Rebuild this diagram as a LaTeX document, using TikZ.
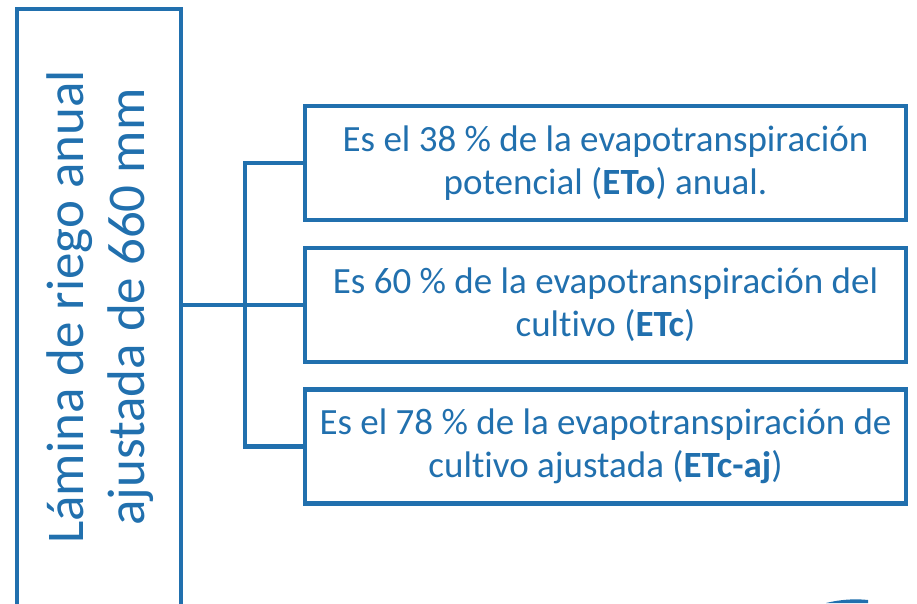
\documentclass[tikz,border=0pt]{standalone}
\usepackage{fontspec}
\setmainfont{Carlito}[Ligatures=NoCommon]
\definecolor{mblue}{HTML}{2170AE}
\begin{document}
\begin{tikzpicture}[x=1pt,y=-1pt,
  rbox/.style={draw=mblue, line width=4.5pt, minimum width=601pt, minimum height=114pt,
     inner sep=0pt, align=center, text=mblue, font=\fontsize{37}{43}\selectfont},
  conn/.style={draw=mblue, line width=4.5pt}]
\useasboundingbox (0,0) rectangle (917,603);
\begin{scope}
\clip (0,0) rectangle (917,603);
\draw[conn] (17,620) -- (17,9) -- (181,9) -- (181,620);
\end{scope}
\coordinate (L) at (181,305);
\node[rotate=90, text=mblue, align=center, font=\fontsize{53}{61}\selectfont] (lt) at (100,307)
  {Lámina de riego anual\\ajustada de 660 mm};
\node[rbox] (b1) at (605.5,163) {Es el 38 \% de la evapotranspiración\\potencial (\textbf{ETo}) anual.};
\node[rbox] (b2) at (605.5,305) {Es 60 \% de la evapotranspiración del\\cultivo (\textbf{ETc})};
\node[rbox] (b3) at (605.5,446.5) {Es el 78 \% de la evapotranspiración de\\cultivo ajustada (\textbf{ETc-aj})};
\coordinate (J) at (245,305);
\draw[conn] (L) -- (J);
\draw[conn] (b1.west) -| (J);
\draw[conn] (b3.west) -| (J);
\draw[conn] (J) -- (b2.west);
\fill[mblue] (826,603) .. controls (840,599.5) and (855,598.5) .. (868,600) -- (868,603) -- cycle;
\end{tikzpicture}
\end{document}
